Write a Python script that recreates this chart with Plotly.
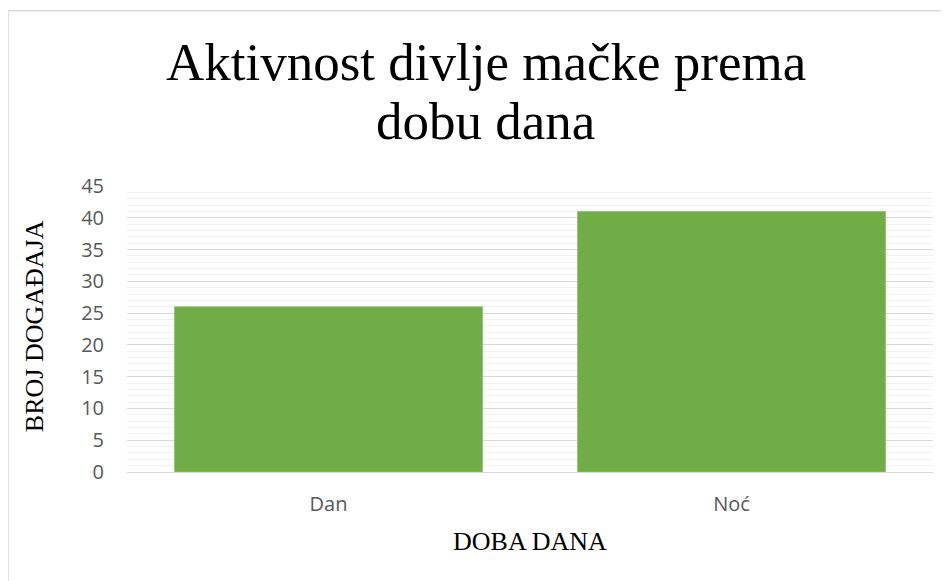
import plotly.graph_objects as go

categories = ["Dan", "Noć"]
values = [26, 41]
y_ticks = [0, 5, 10, 15, 20, 25, 30, 35, 40, 45]

title_lines = ["Aktivnost divlje mačke prema", "dobu dana"]
x_title = "DOBA DANA"
y_title = "BROJ DOGAĐAJA"

fig = go.Figure(go.Bar(
    x=categories, y=values,
    marker=dict(color="#70AD47", line=dict(color="#8CC26A", width=0.8)),
    width=0.764,
))

serif = "Liberation Serif, Times New Roman, serif"
tickfont = dict(family="Open Sans, sans-serif", size=20, color="#595959")

fig.update_layout(
    width=941, height=573,
    margin=dict(l=119, r=16, t=178, b=109),
    paper_bgcolor="white", plot_bgcolor="white",
    showlegend=False,
    xaxis=dict(
        tickfont=tickfont, showgrid=False, showline=False, zeroline=False,
        ticklabelstandoff=18,
    ),
    yaxis=dict(
        range=[0, 45], tickvals=y_ticks, tickfont=tickfont,
        showgrid=True, gridcolor="#D9D9D9", gridwidth=1.3,
        zeroline=True, zerolinecolor="#D9D9D9", zerolinewidth=1.3,
        showline=False, ticklabelstandoff=22,
        minor=dict(dtick=1, showgrid=True, gridcolor="#F0F0F0", gridwidth=1),
    ),
    annotations=[
        dict(text=title_lines[0], xref="paper", yref="paper", x=0.445, y=1.432,
             xanchor="center", yanchor="middle", showarrow=False,
             font=dict(family=serif, size=53, color="black")),
        dict(text=title_lines[1], xref="paper", yref="paper", x=0.445, y=1.226,
             xanchor="center", yanchor="middle", showarrow=False,
             font=dict(family=serif, size=53, color="black")),
        dict(text=x_title, xref="paper", yref="paper", x=0.5, y=-0.2415,
             xanchor="center", yanchor="middle", showarrow=False,
             font=dict(family=serif, size=26, color="black")),
        dict(text=y_title, xref="paper", yref="paper", x=-0.1154, y=0.51,
             xanchor="center", yanchor="middle", showarrow=False, textangle=-90,
             font=dict(family=serif, size=26, color="black")),
    ],
    shapes=[
        dict(type="rect", xref="paper", yref="paper",
             x0=-0.1476, y0=-0.6, x1=1.2, y1=1.613,
             line=dict(color="#D9D9D9", width=1.5), fillcolor="rgba(0,0,0,0)",
             layer="below"),
    ],
)

fig.write_html("out.html")
